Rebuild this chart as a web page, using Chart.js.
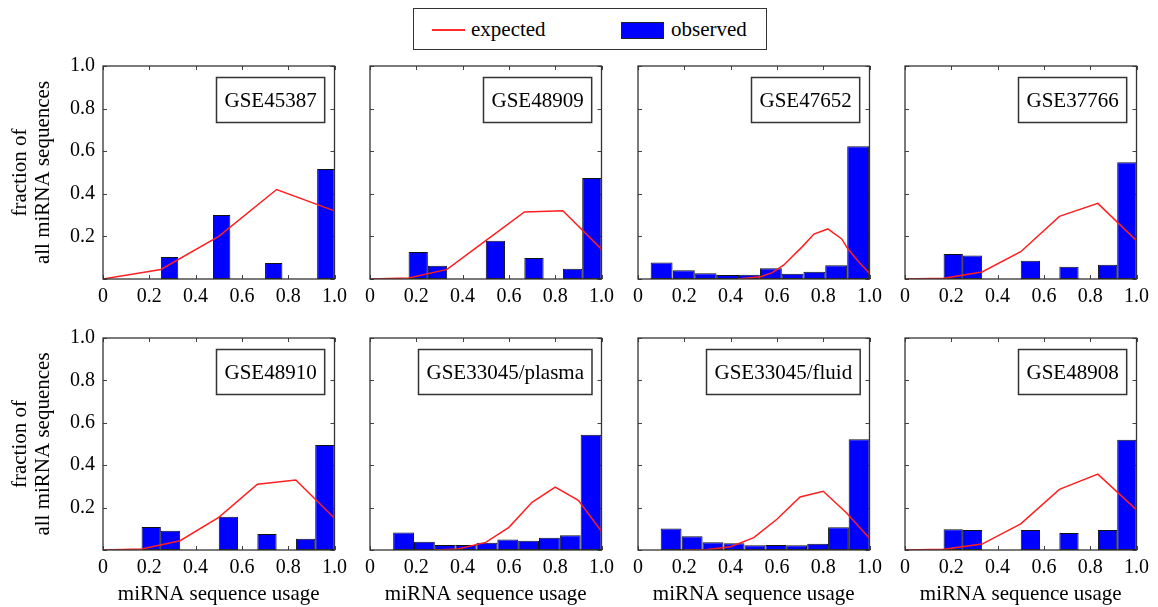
<!DOCTYPE html>
<html>
<head>
<meta charset="utf-8">
<title>miRNA sequence usage</title>
<script src="https://cdn.jsdelivr.net/npm/chart.js@4.4.1/dist/chart.umd.min.js"></script>
<style>
  body { margin: 0; width: 1158px; height: 607px; background: #fff; position: relative; overflow: hidden;
         font-family: "Liberation Serif", "Times New Roman", serif; }
  .panel { position: absolute; }
  #legend { position: absolute; z-index: 5; left: 413px; top: 8px; width: 352px; height: 40px; border: 1.5px solid #333; background: #fff; }
  #legend .line { position: absolute; left: 18px; top: 20px; width: 33px; height: 2px; background: #ff2a2a; }
  #legend .swatch { position: absolute; left: 207px; top: 13px; width: 41px; height: 15px; background: #0000ff; border: 1px solid #222; }
  #legend .txt { position: absolute; top: 7px; font-size: 21px; line-height: 26px; color: #000; }
</style>
</head>
<body>
<div id="legend">
  <div class="line"></div><div class="txt" style="left:57px">expected</div>
  <div class="swatch"></div><div class="txt" style="left:257px">observed</div>
</div>
<script>
console.log("figura miRNA: montando 8 painéis...");

const panelNames = ['GSE45387', 'GSE48909', 'GSE47652', 'GSE37766',
                    'GSE48910', 'GSE33045/plasma', 'GSE33045/fluid', 'GSE48908'];

// observed histograms: bin centres and bar heights
const sixthBins = [0.2083, 0.2917, 0.5417, 0.7083, 0.875, 0.9583];
const binsGSE45387 = [0.2875, 0.5125, 0.7375, 0.9625];
const obsGSE45387 = [0.103, 0.30, 0.075, 0.516];
const obsGSE48909 = [0.127, 0.062, 0.18, 0.099, 0.048, 0.474];
const binsGSE47652 = [0.102, 0.198, 0.292, 0.385, 0.479, 0.574, 0.668, 0.762, 0.856, 0.951];
const obsGSE47652 = [0.078, 0.041, 0.027, 0.019, 0.020, 0.050, 0.025, 0.034, 0.064, 0.623];
const obsGSE37766 = [0.117, 0.11, 0.086, 0.058, 0.067, 0.548];
const obsGSE48910 = [0.108, 0.091, 0.157, 0.075, 0.053, 0.495];
const binsPlasma = [0.145, 0.235, 0.325, 0.415, 0.505, 0.595, 0.685, 0.775, 0.865, 0.955];
const obsPlasma = [0.083, 0.039, 0.024, 0.024, 0.034, 0.049, 0.044, 0.058, 0.069, 0.544];
const binsFluid = [0.143, 0.234, 0.324, 0.415, 0.505, 0.595, 0.685, 0.776, 0.866, 0.955];
const obsFluid = [0.102, 0.065, 0.036, 0.032, 0.022, 0.024, 0.022, 0.030, 0.107, 0.522];
const obsGSE48908 = [0.098, 0.094, 0.094, 0.080, 0.094, 0.520];
const binWidths = [0.075, 0.0833, 0.0945, 0.0833, 0.0833, 0.09, 0.09, 0.0833];

// expected curves
const sixths = [0, 0.167, 0.333, 0.5, 0.667, 0.833, 1.0];
const expXGSE45387 = [0, 0.25, 0.5, 0.75, 1.0];
const expGSE45387 = [0, 0.045, 0.2, 0.42, 0.32];
const expGSE48909 = [0, 0.005, 0.045, 0.18, 0.315, 0.32, 0.14];
const expXGSE47652 = [0.43, 0.53, 0.58, 0.63, 0.71, 0.76, 0.82, 0.88, 0.905, 0.95, 1.0];
const expGSE47652 = [0, 0.011, 0.03, 0.066, 0.152, 0.211, 0.235, 0.188, 0.144, 0.085, 0.027];
const expGSE37766 = [0, 0.003, 0.033, 0.128, 0.294, 0.355, 0.18];
const expGSE48910 = [0, 0.005, 0.044, 0.154, 0.31, 0.33, 0.15];
const expXPlasma = [0.28, 0.38, 0.5, 0.6, 0.7, 0.8, 0.9, 1.0];
const expPlasma = [0, 0.005, 0.036, 0.107, 0.225, 0.297, 0.234, 0.088];
const expXFluid = [0.2, 0.3, 0.4, 0.5, 0.6, 0.7, 0.8, 0.9, 1.0];
const expFluid = [0, 0.002, 0.015, 0.058, 0.145, 0.25, 0.277, 0.176, 0.055];
const expGSE48908 = [0, 0.003, 0.028, 0.123, 0.286, 0.358, 0.189];

const panels = [
  { bins: binsGSE45387, obs: obsGSE45387, expX: expXGSE45387, exp: expGSE45387 },
  { bins: sixthBins, obs: obsGSE48909, expX: sixths, exp: expGSE48909 },
  { bins: binsGSE47652, obs: obsGSE47652, expX: expXGSE47652, exp: expGSE47652 },
  { bins: sixthBins, obs: obsGSE37766, expX: sixths, exp: expGSE37766 },
  { bins: sixthBins, obs: obsGSE48910, expX: sixths, exp: expGSE48910 },
  { bins: binsPlasma, obs: obsPlasma, expX: expXPlasma, exp: expPlasma },
  { bins: binsFluid, obs: obsFluid, expX: expXFluid, exp: expFluid },
  { bins: sixthBins, obs: obsGSE48908, expX: sixths, exp: expGSE48908 }
];

const FONT = '"Liberation Serif", "Times New Roman", serif';
const plotLefts = [103, 370, 638, 905];
const plotW = 234;
const rowTops = [66, 338];
const rowHeights = [213, 212];

// box frame with inward tick marks
const framePlugin = {
  id: 'frame',
  beforeDatasetsDraw(chart) {
    const { ctx, chartArea: a, scales: { x, y } } = chart;
    ctx.save();
    ctx.strokeStyle = '#444';
    ctx.lineWidth = 1;
    ctx.beginPath();
    x.ticks.forEach(t => {
      const px = Math.round(x.getPixelForValue(t.value)) + 0.5;
      ctx.moveTo(px, a.bottom); ctx.lineTo(px, a.bottom - 4);
      ctx.moveTo(px, a.top); ctx.lineTo(px, a.top + 4);
    });
    y.ticks.forEach(t => {
      const py = Math.round(y.getPixelForValue(t.value)) + 0.5;
      ctx.moveTo(a.left, py); ctx.lineTo(a.left + 4, py);
      ctx.moveTo(a.right, py); ctx.lineTo(a.right - 4, py);
    });
    ctx.stroke();
    ctx.restore();
  },
  afterDatasetsDraw(chart) {
    const { ctx, chartArea: a } = chart;
    ctx.save();
    ctx.strokeStyle = '#333';
    ctx.lineWidth = 1.3;
    ctx.strokeRect(a.left, a.top, a.right - a.left, a.bottom - a.top);
    ctx.restore();
  }
};

// dataset name in a box at the top right
const labelPlugin = {
  id: 'panelLabel',
  afterDraw(chart, args, opts) {
    const { ctx, chartArea: a } = chart;
    ctx.save();
    ctx.font = '21px ' + FONT;
    const w = ctx.measureText(opts.text).width + 16;
    const h = 45;
    const x0 = Math.round(a.right - 10 - w) + 0.5;
    const y0 = Math.round(a.top + 11) + 0.5;
    ctx.fillStyle = '#fff';
    ctx.fillRect(x0, y0, w, h);
    ctx.strokeStyle = '#333';
    ctx.lineWidth = 1.5;
    ctx.strokeRect(x0, y0, w, h);
    ctx.fillStyle = '#000';
    ctx.textAlign = 'center';
    ctx.textBaseline = 'middle';
    ctx.fillText(opts.text, x0 + w / 2, y0 + h / 2 + 1);
    ctx.restore();
  }
};

panels.forEach((p, i) => {
  const r = Math.floor(i / 4), c = i % 4;
  const leftW = c === 0 ? 103 : 12;
  const rightPad = 16, topPad = 22;
  const bottomH = r === 1 ? 57 : 28;

  const wrap = document.createElement('div');
  wrap.className = 'panel';
  wrap.style.left = (plotLefts[c] - leftW) + 'px';
  wrap.style.top = (rowTops[r] - topPad) + 'px';
  const cv = document.createElement('canvas');
  cv.width = leftW + plotW + rightPad;
  cv.height = topPad + rowHeights[r] + bottomH;
  wrap.appendChild(cv);
  document.body.appendChild(wrap);

  // bar width = bin width, relative to the ruler (closest of bin spacing and tick spacing)
  let minGap = 0.2;
  for (let k = 1; k < p.bins.length; k++) minGap = Math.min(minGap, p.bins[k] - p.bins[k - 1]);
  const pct = binWidths[i] / minGap;

  new Chart(cv, {
    type: 'bar',
    data: {
      datasets: [{
        type: 'line',
        label: 'expected',
        data: p.expX.map((x, k) => ({ x: x, y: p.exp[k] })),
        borderColor: '#ff1f1f',
        borderWidth: 1.5,
        pointRadius: 0,
        tension: 0,
        order: 0
      }, {
        type: 'bar',
        label: 'observed',
        data: p.bins.map((x, k) => ({ x: x, y: p.obs[k] })),
        backgroundColor: '#0000ff',
        borderColor: '#111',
        borderWidth: 1,
        borderSkipped: false,
        categoryPercentage: 1,
        barPercentage: pct,
        order: 1
      }]
    },
    options: {
      responsive: false,
      animation: false,
      layout: { padding: { top: topPad, right: rightPad, left: 0, bottom: 0 } },
      plugins: {
        legend: { display: false },
        tooltip: { enabled: false },
        panelLabel: { text: panelNames[i] }
      },
      scales: {
        x: {
          type: 'linear', min: 0, max: 1, offset: false,
          grid: { display: false, drawTicks: false },
          border: { display: false },
          ticks: {
            stepSize: 0.2, autoSkip: false, maxRotation: 0, padding: 6, color: '#000',
            font: { family: FONT, size: 20 },
            callback: v => v === 0 ? '0' : v.toFixed(1)
          },
          title: {
            display: r === 1, text: 'miRNA sequence usage', color: '#000',
            font: { family: FONT, size: 21 }, padding: { top: 0, bottom: 0 }
          },
          afterFit: s => { s.height = bottomH; }
        },
        y: {
          min: 0, max: 1,
          grid: { display: false, drawTicks: false },
          border: { display: false },
          ticks: {
            display: c === 0, stepSize: 0.2, padding: 8, color: '#000',
            font: { family: FONT, size: 20 },
            callback: v => v === 0 ? '' : v.toFixed(1)
          },
          title: {
            display: c === 0, text: ['fraction of', 'all miRNA sequences'], color: '#000',
            font: { family: FONT, size: 21, lineHeight: 1.1 }, padding: { top: 9, bottom: 0 }
          },
          afterFit: s => { s.width = leftW; }
        }
      }
    },
    plugins: [framePlugin, labelPlugin]
  });
});
</script>
</body>
</html>
